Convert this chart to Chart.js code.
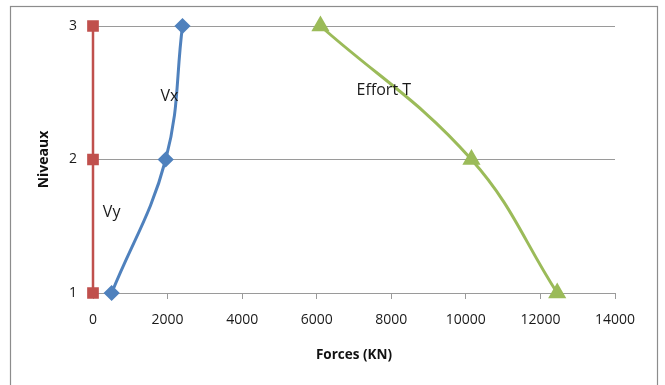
<!DOCTYPE html>
<html>
<head>
<meta charset="utf-8">
<script src="https://cdn.jsdelivr.net/npm/chart.js@4/dist/chart.umd.min.js"></script>
<style>
  html, body { margin: 0; padding: 0; background: #fff; }
  #wrap { width: 665px; height: 385px; position: relative; }
</style>
</head>
<body>
<div id="wrap"><canvas id="c" width="665" height="385"></canvas></div>
<script>
// Storey levels and the forces acting at each of them (kN)
const niveaux = [1, 2, 3];
const vy = [0, 0, 0];
const vx = [500, 1950, 2400];
const effortT = [12450, 10150, 6100];
const seriesNames = ['Vy', 'Vx', 'Effort T'];
const xTicks = [0, 2000, 4000, 6000, 8000, 10000, 12000, 14000];
const yTicks = [1, 2, 3];

// where each series name is written, in data units
const nameAnchors = [
  { x: 500, y: 1.6 },
  { x: 2050, y: 2.47 },
  { x: 7800, y: 2.52 }
];

const pts = (xs) => xs.map((x, i) => ({ x: x, y: niveaux[i] }));

const FONT = '"Open Sans", Lato, sans-serif';

const framePlugin = {
  id: 'frame',
  beforeDraw(chart) {
    const ctx = chart.ctx;
    ctx.save();
    ctx.fillStyle = '#fff';
    ctx.fillRect(0, 0, chart.width, chart.height);
    ctx.strokeStyle = '#8c8c8c';
    ctx.lineWidth = 1.2;
    ctx.strokeRect(10.5, 6.5, 647, 420);
    ctx.restore();
  }
};

const namePlugin = {
  id: 'seriesNames',
  afterDatasetsDraw(chart) {
    const ctx = chart.ctx;
    const xs = chart.scales.x, ys = chart.scales.y;
    ctx.save();
    ctx.font = '16px ' + FONT;
    ctx.fillStyle = '#1a1a1a';
    ctx.textAlign = 'center';
    ctx.textBaseline = 'middle';
    seriesNames.forEach((n, i) => {
      const a = nameAnchors[i];
      ctx.fillText(n, xs.getPixelForValue(a.x), ys.getPixelForValue(a.y));
    });
    ctx.restore();
  }
};

new Chart(document.getElementById('c'), {
  type: 'scatter',
  data: {
    datasets: [
      {
        label: seriesNames[0],
        data: pts(vy),
        showLine: true,
        borderColor: '#C0504D',
        backgroundColor: '#C0504D',
        borderWidth: 2.5,
        pointStyle: 'rect',
        pointRadius: 6.5,
        pointHoverRadius: 6.5,
        tension: 0.4
      },
      {
        label: seriesNames[1],
        data: pts(vx),
        showLine: true,
        borderColor: '#4F81BD',
        backgroundColor: '#4F81BD',
        borderWidth: 3,
        pointStyle: 'rectRot',
        pointRadius: 6,
        pointHoverRadius: 6,
        tension: 0.4
      },
      {
        label: seriesNames[2],
        data: pts(effortT),
        showLine: true,
        borderColor: '#9BBB59',
        backgroundColor: '#9BBB59',
        borderWidth: 3,
        pointStyle: 'triangle',
        pointRadius: 7.5,
        pointHoverRadius: 7.5,
        tension: 0.4
      }
    ]
  },
  options: {
    responsive: false,
    animation: false,
    events: [],
    clip: false,
    layout: { padding: { left: 11, right: 50, top: 26, bottom: 10 } },
    plugins: {
      legend: { display: false },
      tooltip: { enabled: false }
    },
    scales: {
      x: {
        type: 'linear',
        min: 0,
        max: 14000,
        afterBuildTicks(scale) { scale.ticks = xTicks.map(v => ({ value: v })); },
        afterFit(scale) { scale.height = 82; },
        grid: {
          drawOnChartArea: false,
          drawTicks: true,
          tickLength: 6,
          color: '#9a9a9a'
        },
        border: { display: true, color: '#9a9a9a', width: 1 },
        ticks: {
          color: '#1a1a1a',
          font: { family: FONT, size: 14 },
          padding: 13,
          maxRotation: 0,
          callback: (v) => String(v)
        },
        title: {
          display: true,
          text: 'Forces (KN)',
          color: '#111',
          font: { family: FONT, size: 13.5, weight: 'bold' },
          padding: { top: 10, bottom: 12 }
        }
      },
      y: {
        type: 'linear',
        min: 1,
        max: 3,
        afterBuildTicks(scale) { scale.ticks = yTicks.map(v => ({ value: v })); },
        afterFit(scale) { scale.width = 82; },
        grid: {
          color: '#9a9a9a',
          lineWidth: 1,
          drawTicks: false
        },
        border: { display: false },
        ticks: {
          color: '#1a1a1a',
          font: { family: FONT, size: 14 },
          padding: 16,
          callback: (v) => String(v)
        },
        title: {
          display: true,
          text: 'Niveaux',
          color: '#111',
          font: { family: FONT, size: 14, weight: 'bold' },
          padding: { top: 25, bottom: 0 }
        }
      }
    }
  },
  plugins: [framePlugin, namePlugin]
});
</script>
</body>
</html>
